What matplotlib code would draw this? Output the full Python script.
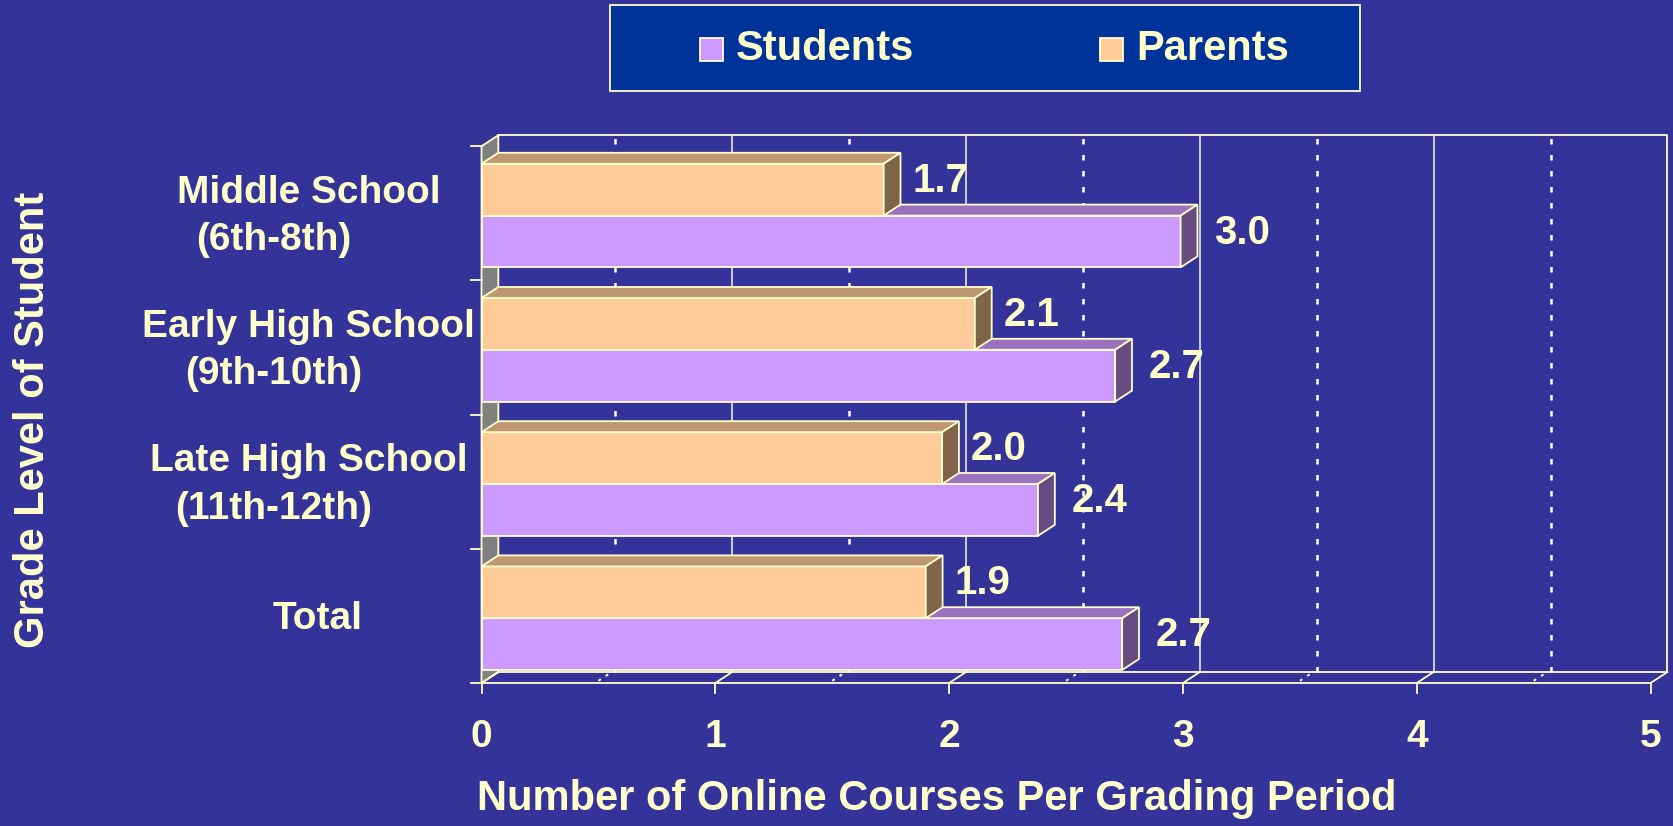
import matplotlib
matplotlib.use("Agg")
import matplotlib.pyplot as plt
from matplotlib.patches import Polygon, Rectangle

# ---------------- data ----------------
cat_main = ["Middle School", "Early High School", "Late High School", "Total"]
cat_sub = ["(6th-8th)", "(9th-10th)", "(11th-12th)", ""]
students = [2.99, 2.71, 2.38, 2.74]
parents = [1.72, 2.11, 1.97, 1.90]
series_names = ["Students", "Parents"]
x_ticks = [0, 1, 2, 3, 4, 5]
x_title = "Number of Online Courses Per Grading Period"
y_title = "Grade Level of Student"

# ---------------- style ----------------
BG = "#333399"
TXT = "#FFFFCC"
EDGE = "#FFFFCC"
STU = ("#CC99FF", "#9B72C0", "#664C80")   # front, top, side
PAR = ("#FFCC99", "#C09870", "#7F6449")
FONT = "Liberation Sans"

W, H = 1673, 826
fig = plt.figure(figsize=(W / 100, H / 100), dpi=100, facecolor=BG)
ax = fig.add_axes([481.5 / W, 0.1731, (1650.6 - 481.5) / W, 0.6499])
ax.set_xlim(0, 5)
ax.set_ylim(0, 4)
ax.set_axis_off()
ax.patch.set_alpha(0)

dx, dy = 0.072, 0.082
n = len(cat_main)
xmax = x_ticks[-1]
lw = 1.3

# back wall outline
ax.plot([dx, xmax + dx, xmax + dx], [4 + dy, 4 + dy, dy], color=EDGE, lw=lw, clip_on=False)
ax.plot([dx, xmax + dx], [dy, dy], color=EDGE, lw=lw, clip_on=False)
# gridlines on back wall
for t in x_ticks[1:-1]:
    ax.plot([t + dx, t + dx], [dy, 4 + dy], color="#E8E8D8", lw=1.2, clip_on=False)
for t in x_ticks[:-1]:
    h = t + 0.5
    ax.plot([h + dx, h + dx], [dy, 4 + dy], color="white", lw=1.8,
            linestyle=(0, (2.2, 4.2)), clip_on=False)
    ax.plot([h, h + dx * 0.6], [0.0 + dy * 0.2, dy * 0.8], color="white", lw=1.4,
            linestyle=(0, (1.5, 3)), clip_on=False)
# floor
ax.plot([0, xmax], [0, 0], color=EDGE, lw=lw, clip_on=False)
for t in x_ticks:
    ax.plot([t, t + dx], [0, dy], color=EDGE, lw=lw, clip_on=False)
    ax.plot([t, t], [0, -0.075], color=EDGE, lw=lw, clip_on=False)
    ax.text(t, -0.40, str(t), ha="center", va="center", color=TXT,
            fontsize=28, fontweight="bold", family=FONT)
# left wall
ax.add_patch(Polygon([(0, 0), (dx, dy), (dx, 4 + dy), (0, 4)], closed=True,
                     facecolor="#808080", edgecolor=EDGE, lw=lw, clip_on=False))
for k in range(n + 1):
    ax.plot([-0.045, 0], [k, k], color=EDGE, lw=lw, clip_on=False)


def bar3d(y0, height, v, cols):
    y1 = y0 + height
    ax.barh(y0 + height / 2, v, height=height, left=0, color=cols[0],
            edgecolor=EDGE, lw=lw, clip_on=False, zorder=3)
    ax.add_patch(Polygon([(0, y1), (dx, y1 + dy), (v + dx, y1 + dy), (v, y1)],
                         closed=True, facecolor=cols[1], edgecolor=EDGE, lw=lw,
                         clip_on=False, zorder=3))
    ax.add_patch(Polygon([(v, y0), (v + dx, y0 + dy), (v + dx, y1 + dy), (v, y1)],
                         closed=True, facecolor=cols[2], edgecolor=EDGE, lw=lw,
                         clip_on=False, zorder=3))


bh = 0.386
for i in range(n):
    k = n - 1 - i
    ys = k + 0.097
    yp = ys + bh
    bar3d(ys, bh, students[i], STU)
    bar3d(yp, bh, parents[i], PAR)
    ax.text(students[i] + dx + 0.07, ys + bh / 2 + dy * 0.8, f"{students[i]:.1f}",
            ha="left", va="center", color=TXT, fontsize=29, fontweight="bold",
            family=FONT, zorder=5)
    ax.text(parents[i] + dx + 0.05, yp + bh / 2 + dy * 0.8, f"{parents[i]:.1f}",
            ha="left", va="center", color=TXT, fontsize=29, fontweight="bold",
            family=FONT, zorder=5)
    yc = k + 0.5
    if cat_sub[i]:
        ax.text(-0.74, yc + 0.155, cat_main[i], ha="center", va="center", color=TXT,
                fontsize=28, fontweight="bold", family=FONT)
        ax.text(-0.89, yc - 0.20, cat_sub[i], ha="center", va="center", color=TXT,
                fontsize=28, fontweight="bold", family=FONT)
    else:
        ax.text(-0.70, yc - 0.02, cat_main[i], ha="center", va="center", color=TXT,
                fontsize=28, fontweight="bold", family=FONT)

# axis titles
fig.text(0.020, 0.4915, y_title, rotation=90, ha="center", va="center", color=TXT,
         fontsize=30, fontweight="bold", family=FONT)
fig.text(0.560, 0.0327, x_title, ha="center", va="center", color=TXT,
         fontsize=30, fontweight="bold", family=FONT)

# legend
fig.patches.append(Rectangle((610 / W, 1 - 91 / H), 750 / W, 86 / H,
                             transform=fig.transFigure, facecolor="#003399",
                             edgecolor=EDGE, lw=1.3))
leg_cols = [STU[0], PAR[0]]
hx = [700, 1100]
for name, c, x0 in zip(series_names, leg_cols, hx):
    fig.patches.append(Rectangle((x0 / W, 1 - 61 / H), 23 / W, 23 / H,
                                 transform=fig.transFigure, facecolor=c,
                                 edgecolor=EDGE, lw=1.3))
    fig.text((x0 + 36) / W, 1 - 49 / H, name, ha="left", va="center", color=TXT,
             fontsize=30, fontweight="bold", family=FONT)

fig.savefig("out.png", dpi=100, facecolor=BG)
